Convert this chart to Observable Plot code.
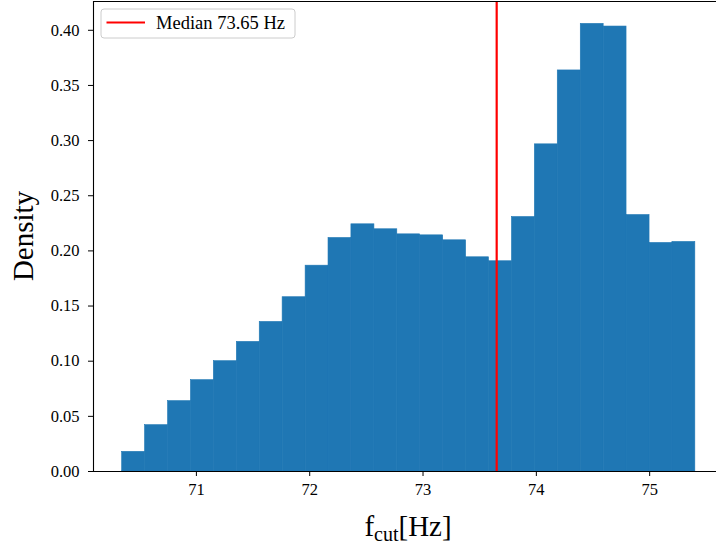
<!DOCTYPE html>
<html>
<head>
<meta charset="utf-8">
<script src="https://cdn.jsdelivr.net/npm/d3@7"></script>
<script src="https://cdn.jsdelivr.net/npm/@observablehq/plot@0.6"></script>
<style>
  html, body { margin: 0; padding: 0; background: white; overflow: hidden; }
  #chart { width: 716px; height: 545px; overflow: hidden; position: relative; }
  #chart svg { display: block; max-width: none !important; }
</style>
</head>
<body>
<div id="chart"></div>
<script>
// Histogram bin edges (Hz)
const binEdges = [70.345, 70.547, 70.750, 70.952, 71.154, 71.357, 71.559, 71.761, 71.964,
  72.166, 72.368, 72.571, 72.773, 72.975, 73.178, 73.380, 73.582, 73.785, 73.987,
  74.189, 74.392, 74.594, 74.796, 74.999, 75.201, 75.403];
// Density of each bin
const densities = [0.0178, 0.0420, 0.0638, 0.0828, 0.1000, 0.1175, 0.1356, 0.1580, 0.1866,
  0.2117, 0.2241, 0.2196, 0.2150, 0.2141, 0.2096, 0.1942, 0.1906, 0.2307, 0.2966,
  0.3636, 0.4058, 0.4034, 0.2325, 0.2072, 0.2081];
const medianValue = 73.65;
const xTicks = [71, 72, 73, 74, 75];
const yTicks = [0, 0.05, 0.10, 0.15, 0.20, 0.25, 0.30, 0.35, 0.40];
const legendLabel = "Median 73.65 Hz";
const yLabel = "Density";

const xDomain = [70.092, 75.656];
const yDomain = [0, 0.4261];

const bins = densities.map((d, i) => ({x1: binEdges[i], x2: binEdges[i + 1], y: d}));

const font = "'Liberation Serif', 'DejaVu Serif', serif";

const chart = Plot.plot({
  width: 724,
  height: 545,
  marginLeft: 93,
  marginRight: 0.5,
  marginTop: 1,
  marginBottom: 74,
  x: {domain: xDomain},
  y: {domain: yDomain},
  style: {fontFamily: font, background: "white", color: "black"},
  marks: [
    Plot.rectY(bins, {x1: "x1", x2: "x2", y: "y", fill: "#1f77b4", stroke: "#1f77b4", strokeWidth: 0.6, inset: 0}),
    Plot.ruleX([medianValue], {stroke: "#ff0000", strokeWidth: 2.2}),
    Plot.ruleY([yDomain[0]], {stroke: "black", strokeWidth: 1.1}),
    Plot.ruleY([yDomain[1]], {stroke: "black", strokeWidth: 1.1}),
    Plot.ruleX([xDomain[0]], {stroke: "black", strokeWidth: 1.1}),
    Plot.axisX({ticks: xTicks, tickSize: 5, tickPadding: 7, fontSize: 16.5, label: null, tickFormat: d => String(d)}),
    Plot.axisY({ticks: yTicks, tickSize: 5, tickPadding: 9, fontSize: 16.5, label: null, tickFormat: d3.format(".2f")})
  ]
});

document.getElementById("chart").appendChild(chart);

const svg = d3.select(chart);
svg.selectAll("text").style("font-variant", "normal");

// y label
svg.append("text")
  .attr("transform", "translate(33,236) rotate(-90)")
  .attr("text-anchor", "middle")
  .attr("font-family", font)
  .attr("font-size", 29)
  .attr("fill", "black")
  .text(yLabel);

// x label with subscript
const xl = svg.append("text")
  .attr("x", 408)
  .attr("y", 536)
  .attr("text-anchor", "middle")
  .attr("font-family", font)
  .attr("font-size", 29)
  .attr("fill", "black");
xl.append("tspan").text("f");
xl.append("tspan").attr("font-size", 20).attr("dy", 5).text("cut");
xl.append("tspan").attr("dy", -5).text("[Hz]");

// legend
const lg = svg.append("g");
lg.append("rect").attr("x", 101).attr("y", 9).attr("width", 194).attr("height", 29)
  .attr("rx", 3).attr("fill", "white").attr("fill-opacity", 0.8)
  .attr("stroke", "#cccccc").attr("stroke-width", 1);
lg.append("line").attr("x1", 106.5).attr("x2", 145).attr("y1", 22.5).attr("y2", 22.5)
  .attr("stroke", "#ff0000").attr("stroke-width", 2.2);
lg.append("text").attr("x", 156).attr("y", 28.5)
  .attr("text-anchor", "start")
  .attr("font-family", font).attr("font-size", 18.5).attr("fill", "black")
  .text(legendLabel);
</script>
</body>
</html>
